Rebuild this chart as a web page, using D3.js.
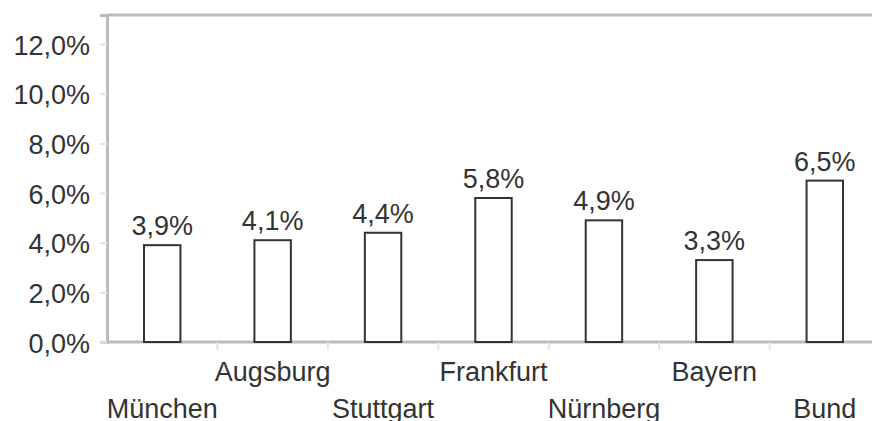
<!DOCTYPE html>
<html>
<head>
<meta charset="utf-8">
<script src="https://cdn.jsdelivr.net/npm/d3@7"></script>
<style>
  body { margin: 0; background: #fff; }
  text { font-family: "Liberation Sans", Arial, sans-serif; fill: #333; }
</style>
</head>
<body>
<div class="chart"></div>
<script>
// data
let cities = ["München", "Augsburg", "Stuttgart", "Frankfurt", "Nürnberg", "Bayern", "Bund"];
let rates = [3.9, 4.1, 4.4, 5.8, 4.9, 3.3, 6.5];
let yTicks = [0, 2, 4, 6, 8, 10, 12];

let svgWidth = 872;
let svgHeight = 421;

let margin = { top: 15, right: -8, bottom: 79, left: 107 };
let width = svgWidth - margin.left - margin.right;
let height = svgHeight - margin.top - margin.bottom;

let fmt = v => v.toFixed(1).replace(".", ",") + "%";

let svg = d3.select(".chart")
  .append("svg")
  .attr("width", svgWidth)
  .attr("height", svgHeight);

let chartGroup = svg.append("g")
  .attr("transform", `translate(${margin.left}, ${margin.top})`);

let xScale = d3.scaleBand()
  .domain(cities)
  .range([0, width])
  .paddingInner(0.67)
  .paddingOuter(0.335);

let yScale = d3.scaleLinear()
  .domain([0, 13.17])
  .range([height, 0]);

// frame: top and left in light grey
chartGroup.append("line")
  .attr("x1", 0).attr("x2", width)
  .attr("y1", 0).attr("y2", 0)
  .attr("stroke", "#bbb").attr("stroke-width", 3);

// y axis
let leftAxis = d3.axisLeft(yScale)
  .tickValues(yTicks)
  .tickSize(7)
  .tickPadding(10)
  .tickFormat(fmt);

let yAxis = chartGroup.append("g").call(leftAxis);
yAxis.select(".domain").attr("stroke", "#bbb").attr("stroke-width", 3);
yAxis.selectAll(".tick line").attr("stroke", "#e4e4e4").attr("stroke-width", 2);
yAxis.selectAll(".tick text")
  .attr("font-size", "27px")
  .attr("fill", "#333")
  .attr("dy", "0.38em");

// x axis: ticks between categories
let step = xScale.step();
let xAxisG = chartGroup.append("g").attr("transform", `translate(0, ${height})`);
xAxisG.append("line")
  .attr("x1", 0).attr("x2", width)
  .attr("stroke", "#bbb").attr("stroke-width", 3);
xAxisG.selectAll(".sep")
  .data(cities.slice(1))
  .enter()
  .append("line")
  .attr("class", "sep")
  .attr("x1", d => xScale(d) - xScale.bandwidth() * 0.67 / 0.33 / 2 - 0)
  .attr("x2", d => xScale(d) - xScale.bandwidth() * 0.67 / 0.33 / 2 - 0)
  .attr("y1", 0).attr("y2", 8)
  .attr("stroke", "#e4e4e4").attr("stroke-width", 2);

// category labels, staggered on two rows
xAxisG.selectAll(".cat")
  .data(cities)
  .enter()
  .append("text")
  .attr("class", "cat")
  .attr("text-anchor", "middle")
  .attr("x", d => xScale(d) + xScale.bandwidth() / 2)
  .attr("y", (d, i) => i % 2 === 0 ? 76 : 39)
  .attr("font-size", "27px")
  .text(d => d);

// bars
chartGroup.selectAll(".bar")
  .data(rates)
  .enter()
  .append("rect")
  .attr("class", "bar")
  .attr("x", (d, i) => xScale(cities[i]))
  .attr("y", d => yScale(d))
  .attr("width", xScale.bandwidth())
  .attr("height", d => height - yScale(d))
  .attr("fill", "#fff")
  .attr("stroke", "#333")
  .attr("stroke-width", 2);

// value labels
chartGroup.selectAll(".val")
  .data(rates)
  .enter()
  .append("text")
  .attr("class", "val")
  .attr("text-anchor", "middle")
  .attr("x", (d, i) => xScale(cities[i]) + xScale.bandwidth() / 2)
  .attr("y", d => yScale(d) - 10)
  .attr("font-size", "27px")
  .text(fmt);
</script>
</body>
</html>
